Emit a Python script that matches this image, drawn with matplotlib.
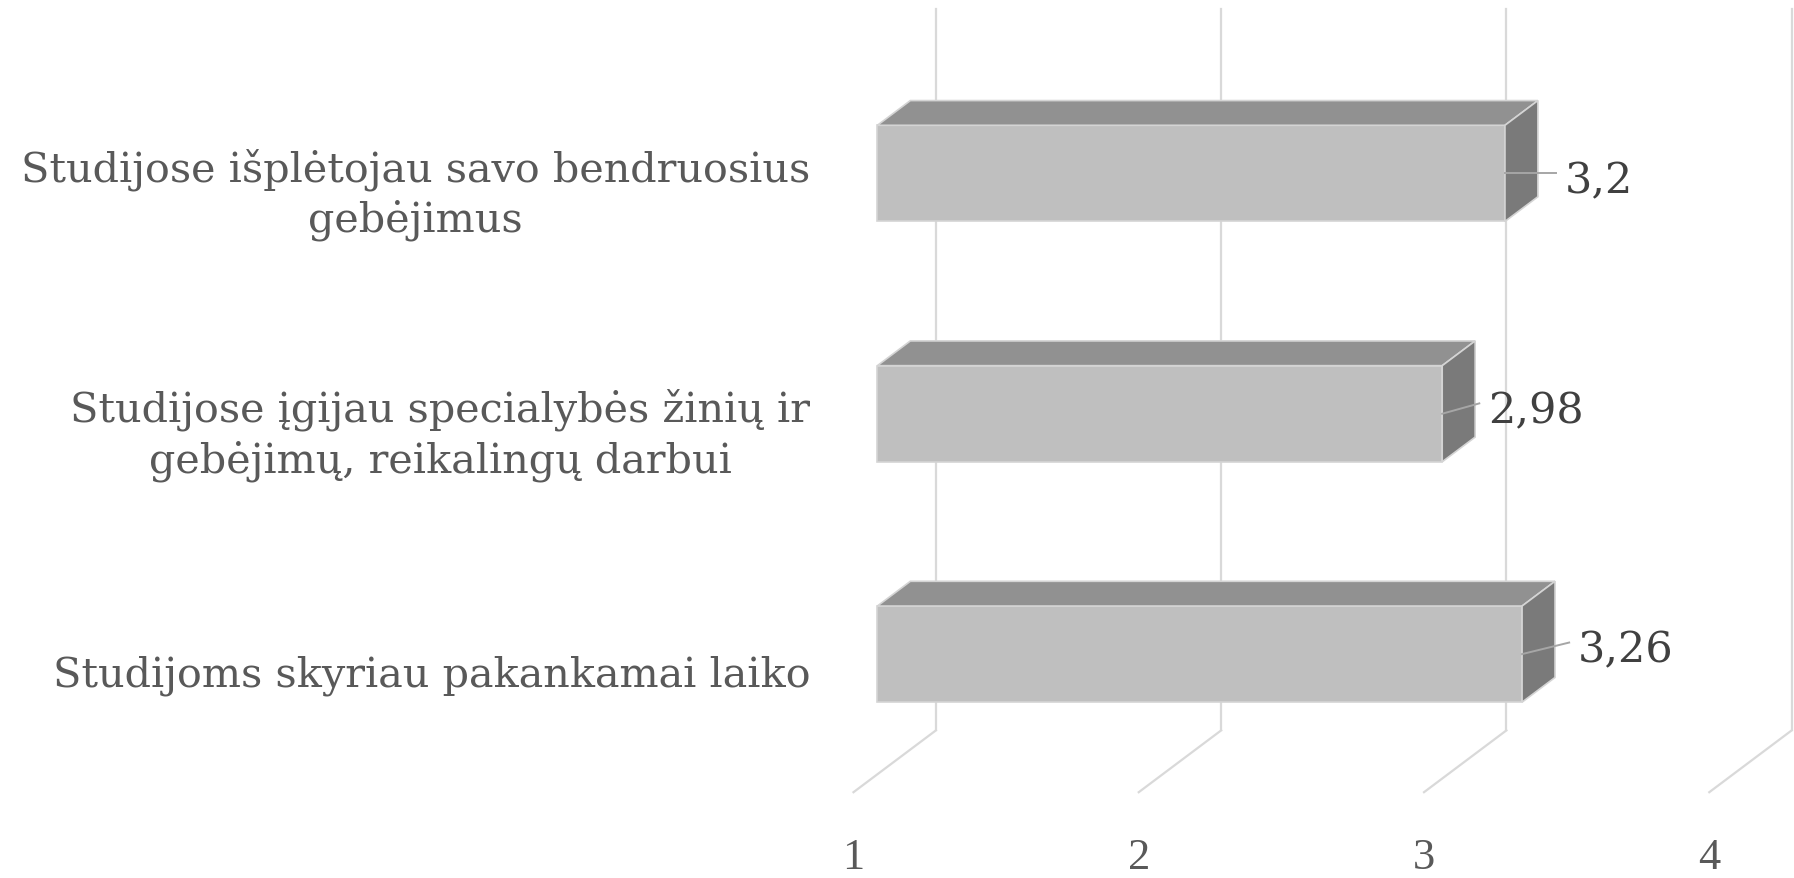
import matplotlib
matplotlib.use('Agg')
import matplotlib.pyplot as plt
from matplotlib.patches import Polygon

plt.rcParams['font.family'] = ['DejaVu Serif']

# data (top to bottom as in the chart)
categories = ['Studijose išplėtojau savo bendruosius\ngebėjimus',
              'Studijose įgijau specialybės žinių ir\ngebėjimų, reikalingų darbui',
              'Studijoms skyriau pakankamai laiko']
values = [3.2, 2.98, 3.26]
value_labels = ['3,2', '2,98', '3,26']
ticks = [1, 2, 3, 4]

# oblique projection of the depth axis (value units, category units)
ox, oy = 0.2888, 0.2571
d0, d1 = 0.29, 0.69      # depth range taken by a bar
half = 0.2               # half bar height
vmin, vmax = 1, 4

fig = plt.figure(figsize=(17.94, 8.79), dpi=100)
ax = fig.add_axes([0, 0, 1, 1])
ax.set_xlim(-1.992, 4.297)
ax.set_ylim(-0.857, 2.8)
ax.axis('off')

ncat = len(categories)
ypos = [ncat - 1 - i for i in range(ncat)]
ylo, yhi = -0.5, ncat - 0.5

grid_c = '#d9d9d9'
for t in ticks:
    ax.plot([t + ox, t + ox], [ylo + oy, yhi + oy], color=grid_c, lw=1.6, zorder=1)
    ax.plot([t, t + ox], [ylo, ylo + oy], color=grid_c, lw=1.6, zorder=1)
    ax.text(t, -0.77, str(t), ha='center', va='center', fontsize=32,
            color='#595959', family='Liberation Serif')

lead_off = [(0.18, 0.0), (0.13, 0.043), (0.165, 0.048)]
for y, v, lab, cat, (lx, ly) in zip(ypos, values, value_labels, categories, lead_off):
    b0, b1 = y - half, y + half
    x0f, x1f = vmin + d0 * ox, v + d0 * ox
    x0b, x1b = vmin + d1 * ox, v + d1 * ox
    yf0, yf1 = b0 + d0 * oy, b1 + d0 * oy
    yb1 = b1 + d1 * oy
    yb0 = b0 + d1 * oy
    front = Polygon([(x0f, yf0), (x1f, yf0), (x1f, yf1), (x0f, yf1)],
                    fc='#bfbfbf', ec='#d4d4d4', lw=1.2, zorder=3)
    top = Polygon([(x0f, yf1), (x1f, yf1), (x1b, yb1), (x0b, yb1)],
                  fc='#919191', ec='#d4d4d4', lw=1.2, zorder=3)
    side = Polygon([(x1f, yf0), (x1b, yb0), (x1b, yb1), (x1f, yf1)],
                   fc='#7a7a7a', ec='#d4d4d4', lw=1.2, zorder=3)
    for p in (front, top, side):
        ax.add_patch(p)
    # leader line and value label
    sx, sy = x1f, y + d0 * oy
    ex, ey = sx + lx, sy + ly
    ax.plot([sx, ex], [sy, ey], color='#a6a6a6', lw=1.4, zorder=4)
    ax.text(ex + 0.03, ey - 0.03, lab, ha='left', va='center',
            fontsize=31, color='#404040', zorder=5)
    ax.text(0.848, y - 0.01, cat, ha='right', va='center', multialignment='center',
            fontsize=29.8, color='#595959', linespacing=1.28)

fig.savefig('out.png', dpi=100)
